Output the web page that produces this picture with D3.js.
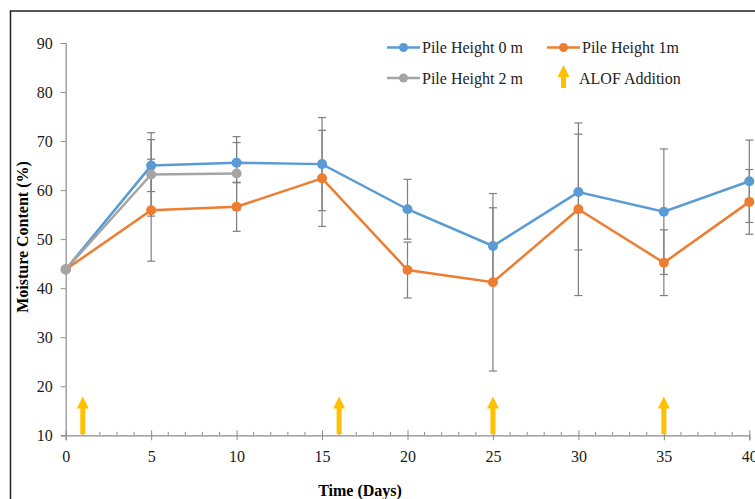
<!DOCTYPE html>
<html>
<head>
<meta charset="utf-8">
<script src="https://cdn.jsdelivr.net/npm/d3@7"></script>
<style>
  body { margin: 0; background: #fff; }
  svg { display: block; }
</style>
</head>
<body>
<div id="chart"></div>
<script>
// Data -------------------------------------
var days = [0, 5, 10, 15, 20, 25, 30, 35, 40];
var height0 = [43.8, 65.0, 65.6, 65.3, 56.1, 48.6, 59.6, 55.6, 61.8];
var height0Err = [0, 5.3, 4.1, 9.5, 6.1, 7.8, 11.8, 12.8, 8.4];
var height1 = [43.8, 55.9, 56.6, 62.4, 43.7, 41.2, 56.1, 45.2, 57.6];
var height1Err = [0, 10.4, 5.0, 9.8, 5.7, 18.1, 17.6, 6.7, 6.6];
var days2 = [0, 5, 10];
var height2 = [43.8, 63.2, 63.4];
var height2Err = [0, 8.5, 7.5];
var alofDays = [1, 16, 25, 35];
var xTicks = [0, 5, 10, 15, 20, 25, 30, 35, 40];
var yTicks = [10, 20, 30, 40, 50, 60, 70, 80, 90];

var series = [
  { name: 'Pile Height 0 m', x: days, y: height0, err: height0Err, color: '#5B9BD5' },
  { name: 'Pile Height 1m', x: days, y: height1, err: height1Err, color: '#ED7D31' },
  { name: 'Pile Height 2 m', x: days2, y: height2, err: height2Err, color: '#A5A5A5' }
];

// Setup -------------------------------------
var width = 755, height = 499;
var fontFamily = '"Liberation Serif", "Times New Roman", serif';
var axisColor = '#8c8c8c';

var svg = d3.select('#chart').append('svg')
  .attr('width', width)
  .attr('height', height);

// outer frame (cut off at right and bottom)
svg.append('rect')
  .attr('x', 10.5).attr('y', 11)
  .attr('width', 900).attr('height', 700)
  .attr('fill', 'none')
  .attr('stroke', '#222')
  .attr('stroke-width', 1.5);

var x = d3.scaleLinear().domain([0, 40]).range([65.7, 749.3]);
var y = d3.scaleLinear().domain([10, 90]).range([435.3, 43]);

// Axes -------------------------------------
var yAxis = svg.append('g')
  .attr('transform', 'translate(' + x(0) + ',0)')
  .call(d3.axisLeft(y).tickValues(yTicks).tickSize(5).tickPadding(8));

var xAxis = svg.append('g')
  .attr('transform', 'translate(0,' + y(10) + ')')
  .call(d3.axisBottom(x).tickValues(xTicks).tickSize(5).tickPadding(10));

// minor ticks on x axis (inside)
svg.append('g').selectAll('line')
  .data(d3.range(0, 41).filter(function(d) { return d % 5 !== 0; }))
  .enter().append('line')
  .attr('x1', function(d) { return x(d); })
  .attr('x2', function(d) { return x(d); })
  .attr('y1', y(10))
  .attr('y2', y(10) - 3.5)
  .attr('stroke', axisColor);

// major x ticks cross the axis
xAxis.selectAll('.tick line').attr('y1', -5);

[xAxis, yAxis].forEach(function(a) {
  a.select('.domain').attr('stroke', axisColor).attr('stroke-width', 1.2);
  a.selectAll('.tick line').attr('stroke', axisColor);
  a.selectAll('.tick text')
    .attr('fill', '#1a1a1a')
    .style('font-family', fontFamily)
    .style('font-size', '16px');
});

// Axis titles
svg.append('text')
  .attr('x', 360).attr('y', 496)
  .attr('text-anchor', 'middle')
  .style('font-family', fontFamily)
  .style('font-size', '16px')
  .style('font-weight', 'bold')
  .text('Time (Days)');

svg.append('text')
  .attr('transform', 'translate(28,237) rotate(-90)')
  .attr('text-anchor', 'middle')
  .style('font-family', fontFamily)
  .style('font-size', '16px')
  .style('font-weight', 'bold')
  .text('Moisture Content (%)');

// ALOF arrows -------------------------------------
function arrowPath(x0, yBase, yTip) {
  var shaft = 2.5, head = 6, headLen = 12;
  return 'M' + (x0 - shaft) + ',' + yBase +
    'L' + (x0 - shaft) + ',' + (yTip + headLen) +
    'L' + (x0 - head) + ',' + (yTip + headLen) +
    'L' + x0 + ',' + yTip +
    'L' + (x0 + head) + ',' + (yTip + headLen) +
    'L' + (x0 + shaft) + ',' + (yTip + headLen) +
    'L' + (x0 + shaft) + ',' + yBase + 'Z';
}

svg.append('g').selectAll('path')
  .data(alofDays)
  .enter().append('path')
  .attr('d', function(d) { return arrowPath(x(d), y(10) - 1, y(17.9)); })
  .attr('fill', '#FFC000');

// Error bars -------------------------------------
var errG = svg.append('g');
series.forEach(function(s) {
  s.x.forEach(function(d, i) {
    if (!s.err[i]) return;
    var top = y(s.y[i] + s.err[i]), bot = y(s.y[i] - s.err[i]), cx = x(d);
    errG.append('line')
      .attr('x1', cx).attr('x2', cx).attr('y1', top).attr('y2', bot)
      .attr('stroke', '#7f7f7f').attr('stroke-width', 1.2);
    [top, bot].forEach(function(yy) {
      errG.append('line')
        .attr('x1', cx - 4).attr('x2', cx + 4).attr('y1', yy).attr('y2', yy)
        .attr('stroke', '#7f7f7f').attr('stroke-width', 1.2);
    });
  });
});

// Lines & markers -------------------------------------
var line = d3.line()
  .x(function(d) { return x(d[0]); })
  .y(function(d) { return y(d[1]); });

series.forEach(function(s) {
  var pts = s.x.map(function(d, i) { return [d, s.y[i]]; });
  svg.append('path')
    .datum(pts)
    .attr('d', line)
    .attr('fill', 'none')
    .attr('stroke', s.color)
    .attr('stroke-width', 2.5);
  svg.append('g').selectAll('circle')
    .data(pts)
    .enter().append('circle')
    .attr('cx', function(d) { return x(d[0]); })
    .attr('cy', function(d) { return y(d[1]); })
    .attr('r', 5)
    .attr('fill', s.color);
});

// Legend -------------------------------------
var legendItems = [
  { label: series[0].name, color: series[0].color, lx: 387, ly: 47.5, type: 'line' },
  { label: series[1].name, color: series[1].color, lx: 547, ly: 47.5, type: 'line' },
  { label: series[2].name, color: series[2].color, lx: 387, ly: 78, type: 'line' },
  { label: 'ALOF Addition', color: '#FFC000', lx: 547, ly: 78, type: 'arrow' }
];

var legend = svg.append('g');
legendItems.forEach(function(it) {
  if (it.type === 'line') {
    legend.append('line')
      .attr('x1', it.lx).attr('x2', it.lx + 33)
      .attr('y1', it.ly).attr('y2', it.ly)
      .attr('stroke', it.color).attr('stroke-width', 2.5);
    legend.append('circle')
      .attr('cx', it.lx + 16.5).attr('cy', it.ly).attr('r', 4.5)
      .attr('fill', it.color);
    legend.append('text')
      .attr('x', it.lx + 35).attr('y', it.ly + 5.5)
      .style('font-family', fontFamily)
      .style('font-size', '16px')
      .attr('fill', '#222')
      .text(it.label);
  } else {
    legend.append('path')
      .attr('d', arrowPath(it.lx + 16.5, it.ly + 10, it.ly - 13))
      .attr('fill', it.color);
    legend.append('text')
      .attr('x', it.lx + 32).attr('y', it.ly + 5.5)
      .style('font-family', fontFamily)
      .style('font-size', '16px')
      .attr('fill', '#222')
      .text(it.label);
  }
});
</script>
</body>
</html>
